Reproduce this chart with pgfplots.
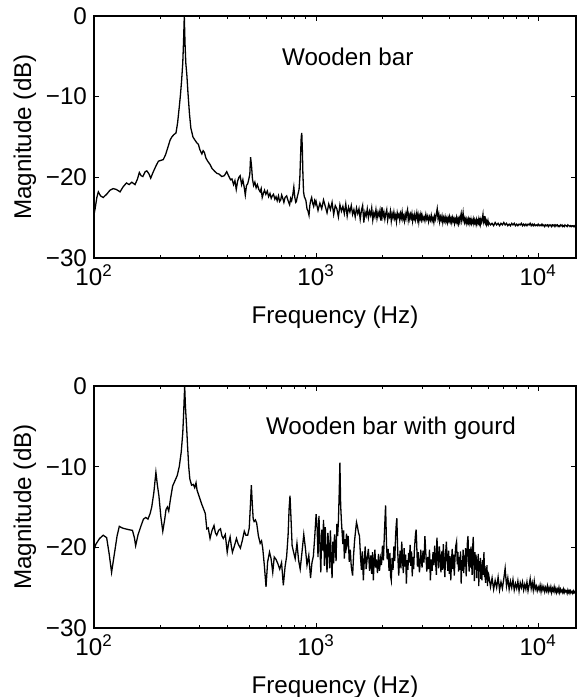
\documentclass[border=0pt]{standalone}
\usepackage{pgfplots}
\pgfplotsset{compat=1.18}
\usepackage{fontspec}
\setmainfont{Liberation Sans}
\newcommand{\fs}{\fontsize{12.1}{14.5}\selectfont}

\pgfplotsset{
  woodaxis/.style={
    scale only axis,
    width=241pt, height=121pt,
    xmin=100, xmax=14800,
    ymin=-30, ymax=0,
    xtick={100,1000,10000},
    xticklabels={10\textsuperscript{2},10\textsuperscript{3},10\textsuperscript{4}},
    minor xtick={200,300,400,500,600,700,800,900,2000,3000,4000,5000,6000,7000,8000,9000},
    ytick={-30,-20,-10,0},
    yticklabels={−30,−20,−10,0},
    tick align=inside,
    major tick length=2.6pt,
    minor tick length=1.4pt,
    axis line style={line width=0.6pt},
    every tick/.style={black, line width=0.5pt},
    tick label style={font=\fs},
    label style={font=\fs},
    xlabel={Frequency (Hz)},
    ylabel={Magnitude (dB)},
    xlabel style={at={(axis description cs:0.5,-0.2727)}, anchor=base},
    ylabel style={at={(axis description cs:-0.1307,0.5)}, anchor=base},
  },
  woodline/.style={black, line width=0.65pt, no marks},
}

\begin{document}
\begin{tikzpicture}
\path[use as bounding box] (0,0) rectangle (289pt,348.5pt);

% top: wooden bar alone
\begin{semilogxaxis}[woodaxis, at={(47pt,219.5pt)}, anchor=south west]
\addplot[woodline] coordinates {
(100,-24.6) (101,-24.0) (103,-22.5) (104.6,-21.8) (107,-22.3) (110,-22.5) (114,-22.1) (118,-21.6) (122,-21.4) (126,-21.5)
(131,-21.8) (135,-21.2) (140,-20.7) (144,-20.9) (148,-20.6) (153,-20.9) (157,-20.2) (160,-19.4) (163,-19.8) (166,-19.9)
(170,-19.3) (173,-19.2) (177,-19.6) (180,-20.1) (185,-19.3) (190,-18.6) (195,-18.0) (200,-17.9) (205,-17.8) (210,-17.2)
(215,-16.3) (220,-15.4) (224,-15.0) (229,-14.7) (234,-14.5) (238,-13.2) (242,-11.3) (245,-9.8) (248,-8.0) (251,-5.8)
(253,-3.2) (255,0) (257,-3.5) (259,-5.8) (262,-7.4) (265,-9.6) (269,-12.1) (273,-13.9) (279,-15.0) (285,-15.4)
(290,-15.7) (295,-15.9) (300,-16.6) (306,-17.1) (310,-16.7) (314,-16.9) (319,-17.6) (325,-18.0) (333,-18.4) (340,-18.9)
(348,-19.2) (357,-19.5) (366,-19.6) (376,-19.9) (386,-19.8) (396,-19.3) (405,-19.9) (412,-20.3) (418,-20.2) (425,-20.9)
(431,-20.4) (437,-21.5) (443,-20.5) (449,-20.0) (455,-19.8) (462,-20.9) (468,-20.3) (475,-21.3) (480,-22.2) (486,-21.0)
(492,-20.8) (498,-20.2) (503,-19.6) (507,-17.5) (512,-18.6) (517,-20.2) (523,-21.0) (530,-20.6) (537,-21.3) (544,-20.9)
(552,-21.5) (560,-21.8) (566,-21.4) (572,-22.5) (579,-22.0) (586,-21.6) (594,-22.1) (603,-21.7) (611,-22.4) (620,-22.0)
(628,-22.6) (635,-22.3) (643,-22.1) (652,-22.7) (660,-22.4) (668,-22.9) (677,-22.3) (685,-23.0) (693,-22.8) (700,-22.2)
(708,-22.6) (716,-23.1) (725,-22.5) (737,-22.3) (746,-22.8) (755,-23.2) (760,-23.4) (768,-22.6) (776,-22.9) (785,-22.2)
(794,-21.2) (802,-22.5) (810,-23.1) (815,-23.0) (823,-22.4) (830,-22.0) (838,-21.5) (845,-20.0) (851,-17.5) (857,-15.0)
(862,-14.5) (867,-16.5) (872,-19.5) (878,-21.8) (885,-22.4) (892,-22.6) (900,-22.9) (910,-23.9) (920,-24.2) (929,-24.7)
(937,-23.5) (945,-22.9) (955,-22.5) (965,-23.2) (975,-23.6) (985,-22.9) (995,-23.3)
(1000,-23.0) (1020,-24.1) (1040,-23.2) (1060,-23.9) (1080,-22.8) (1100,-23.6) (1120,-24.4) (1140,-23.3) (1160,-24.0) (1180,-23.1)
(1200,-24.6) (1220,-23.5) (1240,-23.9) (1260,-24.9) (1280,-23.4) (1300,-24.2) (1320,-23.6) (1340,-24.5) (1360,-23.3) (1380,-24.8)
(1400,-23.7) (1420,-24.3) (1440,-23.5) (1460,-24.6) (1480,-24.0) (1500,-24.9) (1520,-23.8) (1540,-24.5) (1560,-23.9) (1580,-25.2)
(1600,-24.1) (1620,-23.5) (1640,-25.6) (1660,-24.3) (1680,-24.8) (1700,-23.9) (1720,-25.0) (1740,-24.2) (1760,-24.7) (1780,-23.8)
(1800,-25.3) (1820,-24.4) (1840,-24.9) (1860,-24.0) (1880,-25.1) (1900,-24.3) (1920,-24.8) (1940,-24.1) (1960,-25.4) (1980,-23.7)
(2000,-24.9) (2020,-24.3) (2040,-25.2) (2060,-24.5) (2080,-24.0) (2100,-25.3) (2120,-24.6) (2140,-24.9) (2160,-24.2) (2180,-25.4)
(2200,-24.5) (2220,-25.0) (2240,-24.3) (2260,-25.1) (2280,-24.7) (2300,-25.5) (2320,-24.4) (2340,-24.9) (2360,-24.6) (2380,-25.3)
(2400,-24.5) (2420,-25.0) (2440,-24.3) (2460,-25.2) (2480,-24.8) (2500,-25.4) (2520,-24.6) (2540,-25.1) (2560,-24.4) (2580,-24.0)
(2600,-25.3) (2620,-24.7) (2640,-25.2) (2660,-24.6) (2680,-25.0) (2700,-24.5) (2720,-25.4) (2740,-24.8) (2760,-25.1) (2780,-24.6)
(2800,-25.3) (2820,-24.9) (2840,-24.4) (2860,-25.2) (2880,-24.7) (2900,-25.5) (2920,-24.8) (2940,-25.1) (2960,-24.6) (2980,-25.2)
(3000,-24.7) (3030,-25.3) (3060,-24.9) (3090,-25.4) (3120,-24.6) (3150,-25.2) (3180,-24.8) (3210,-25.5) (3240,-24.9) (3270,-25.3)
(3300,-24.7) (3330,-25.4) (3360,-25.0) (3390,-25.6) (3420,-24.8) (3450,-25.2) (3480,-24.5) (3510,-23.9) (3540,-25.1) (3570,-24.6)
(3600,-25.5) (3630,-24.9) (3660,-25.3) (3690,-24.8) (3720,-25.6) (3750,-25.0) (3780,-25.4) (3810,-24.9) (3840,-25.5) (3870,-25.1)
(3900,-25.6) (3930,-25.0) (3960,-25.4) (3990,-24.9) (4020,-25.5) (4050,-25.1) (4080,-25.6) (4110,-25.0) (4140,-25.4) (4170,-25.1)
(4200,-25.7) (4230,-25.2) (4260,-25.5) (4290,-25.0) (4320,-25.6) (4350,-25.2) (4380,-25.7) (4410,-25.1) (4440,-25.5) (4470,-24.9)
(4500,-24.5) (4530,-25.4) (4560,-25.0) (4590,-24.4) (4620,-25.3) (4650,-25.6) (4680,-25.1) (4710,-25.5) (4740,-25.2) (4770,-25.7)
(4800,-25.3) (4830,-25.6) (4860,-25.2) (4890,-25.7) (4920,-25.3) (4950,-25.6) (4980,-25.2) (5010,-25.7) (5040,-25.4) (5070,-25.6)
(5100,-25.2) (5130,-25.7) (5160,-25.3) (5190,-25.6) (5220,-25.4) (5250,-25.8) (5280,-25.3) (5310,-25.7) (5340,-25.4) (5370,-25.6)
(5400,-25.2) (5430,-25.7) (5460,-25.4) (5490,-25.8) (5520,-25.3) (5550,-25.6) (5580,-25.4) (5610,-25.0) (5640,-24.6) (5670,-25.5)
(5700,-25.2) (5730,-25.7) (5760,-24.8) (5790,-25.6) (5820,-25.4) (5850,-25.8) (5880,-25.5) (5910,-25.7) (5940,-25.4) (5970,-25.8)
(6000,-25.6) (6100,-25.9) (6200,-25.7) (6300,-26.0) (6400,-25.6) (6500,-25.9) (6600,-25.7) (6700,-26.0) (6800,-25.7) (6900,-25.9)
(7000,-25.6) (7100,-25.9) (7200,-25.7) (7300,-26.0) (7400,-25.8) (7500,-26.0) (7600,-25.7) (7700,-25.9) (7800,-25.7) (7900,-26.0)
(8000,-25.8) (8100,-26.0) (8200,-25.8) (8300,-25.9) (8400,-25.7) (8500,-26.0) (8600,-25.8) (8700,-26.0) (8800,-25.8) (8900,-26.0)
(9000,-25.8) (9100,-25.9) (9200,-25.7) (9300,-26.0) (9400,-25.8) (9500,-26.0) (9600,-25.8) (9700,-26.0) (9800,-25.9) (9900,-26.0)
(10000,-25.8) (10100,-26.0) (10200,-25.9) (10300,-26.0) (10400,-25.8) (10500,-26.0) (10600,-25.9) (10700,-26.1) (10800,-25.9) (10900,-26.0)
(11000,-25.9) (11100,-26.1) (11200,-25.9) (11300,-26.0) (11400,-25.9) (11500,-26.1) (11600,-25.9) (11700,-26.0) (11800,-25.9) (11900,-26.1)
(12000,-25.9) (12100,-26.0) (12200,-25.9) (12300,-26.1) (12400,-26.0) (12500,-26.1) (12600,-25.9) (12700,-26.0) (12800,-25.9) (12900,-26.1)
(13000,-26.0) (13100,-26.1) (13200,-25.9) (13300,-26.0) (13400,-26.0) (13500,-26.1) (13600,-25.9) (13700,-26.0) (13800,-26.0) (13900,-26.1)
(14000,-26.0) (14100,-26.1) (14200,-26.0) (14300,-26.0) (14400,-26.1) (14500,-26.0) (14600,-26.1) (14700,-26.0) (14800,-26.0) (14900,-26.1)
};
\node[font=\fs, anchor=base] at (axis cs:1389,-6.15) {Wooden bar};
\end{semilogxaxis}

% bottom: wooden bar with gourd resonator
\begin{semilogxaxis}[woodaxis, at={(47pt,34.5pt)}, anchor=south west]
\addplot[woodline] coordinates {
(100,-20.3) (102,-19.6) (106,-18.9) (110,-18.5) (114,-18.8) (117,-20.8) (120,-23.1) (124,-20.5) (127,-18.6) (130,-17.4)
(134,-17.6) (138,-17.7) (143,-17.8) (149,-17.9) (152,-18.8) (154,-19.8) (158,-18.4) (163,-17.3) (167,-16.5) (171,-16.3)
(175,-16.5) (179,-15.8) (182,-15.0) (186,-13.2) (190,-10.7) (193,-12.3) (196,-13.6) (200,-16.2) (204,-18.0) (208,-16.6)
(211,-15.3) (214,-15.0) (217,-15.5) (221,-14.0) (226,-12.4) (231,-11.8) (237,-11.1) (242,-10.0) (247,-8.2) (251,-5.8)
(253,-3.7) (256,0) (258,-2.5) (261,-4.9) (264,-7.6) (267,-10.0) (270,-11.5) (275,-12.3) (280,-12.2) (284,-12.6)
(288,-12.0) (291,-12.9) (295,-13.4) (300,-14.0) (306,-14.7) (312,-15.3) (317,-15.8) (322,-17.7) (327,-17.6) (333,-18.9)
(340,-17.9) (347,-17.3) (352,-18.2) (357,-18.5) (364,-17.9) (371,-17.7) (377,-18.6) (382,-18.9) (390,-18.4) (398,-20.6)
(404,-19.4) (410,-18.7) (415,-19.8) (420,-20.6) (428,-19.9) (438,-18.9) (446,-19.6) (456,-20.1) (465,-19.2) (475,-18.0)
(483,-18.5) (492,-18.5) (500,-17.6) (506,-14.8) (511,-12.3) (516,-14.6) (521,-16.5) (526,-16.8) (533,-16.6) (540,-17.0)
(550,-18.6) (560,-19.5) (568,-19.2) (575,-20.1) (585,-22.3) (595,-24.9) (605,-21.8) (617,-20.6) (627,-21.4) (638,-23.1)
(648,-21.2) (660,-21.5) (672,-22.0) (686,-22.7) (699,-21.9) (712,-24.7) (725,-22.4) (737,-21.1) (748,-18.5) (756,-15.2)
(763,-13.6) (770,-16.0) (780,-19.8) (792,-20.6) (805,-21.4) (820,-19.5) (834,-21.6) (848,-22.7) (864,-20.6) (880,-18.4)
(895,-20.1) (910,-22.2) (927,-21.0) (944,-23.8) (958,-21.9) (972,-21.1) (986,-18.7) (1000,-15.9)
(1010,-17.3) (1020,-21.2) (1030,-16.1) (1040,-19.5) (1050,-23.1) (1060,-17.8) (1070,-20.4) (1080,-16.6) (1090,-22.3) (1100,-17.5)
(1110,-20.9) (1120,-23.1) (1130,-18.2) (1140,-19.8) (1150,-22.6) (1160,-17.9) (1170,-21.4) (1180,-23.8) (1190,-19.3) (1200,-22.0)
(1210,-18.4) (1220,-19.8) (1230,-21.7) (1240,-17.1) (1250,-18.6) (1260,-16.8) (1270,-13.5) (1280,-9.5) (1290,-14.8) (1300,-16.7)
(1310,-18.2) (1320,-19.6) (1330,-17.9) (1340,-21.4) (1350,-19.0) (1360,-20.7) (1370,-18.3) (1380,-19.5) (1395,-18.6) (1410,-21.8)
(1425,-20.3) (1440,-22.4) (1460,-23.5) (1475,-21.0) (1490,-19.2) (1505,-18.0) (1520,-16.9) (1535,-17.4) (1550,-18.1) (1568,-18.6)
(1585,-21.2) (1600,-22.8) (1616,-20.5) (1632,-24.1) (1648,-21.6) (1664,-19.9) (1680,-22.7) (1700,-21.3) (1720,-20.2) (1740,-22.9)
(1760,-21.0) (1780,-23.3) (1795,-20.6) (1810,-24.1) (1825,-21.8) (1840,-20.3) (1855,-22.5) (1870,-21.5) (1890,-23.2) (1910,-20.8)
(1930,-22.9) (1950,-21.4) (1970,-22.2) (1990,-19.8) (2010,-21.6) (2030,-18.3) (2055,-14.8) (2075,-19.6) (2090,-21.5) (2110,-20.2)
(2130,-22.9) (2150,-20.7) (2165,-23.6) (2180,-24.1) (2200,-21.3) (2220,-22.8) (2240,-19.9) (2260,-21.7) (2280,-18.6) (2295,-17.2)
(2310,-16.4) (2325,-19.5) (2340,-21.8) (2355,-23.5) (2370,-22.0) (2390,-20.4) (2410,-22.6) (2430,-19.3) (2450,-21.5) (2470,-23.2)
(2490,-20.1) (2510,-22.4) (2530,-20.9) (2550,-24.5) (2570,-21.6) (2590,-22.8) (2610,-20.7) (2630,-21.9) (2650,-19.7) (2670,-22.3)
(2690,-20.5) (2710,-23.6) (2730,-21.2) (2750,-22.7) (2770,-20.4) (2790,-19.1) (2805,-18.3) (2822,-17.8) (2840,-19.9) (2860,-22.4)
(2880,-20.6) (2900,-21.8) (2920,-23.1) (2940,-22.0) (2960,-20.3) (2980,-21.7)
(3000,-22.5) (3030,-20.4) (3060,-21.9) (3090,-18.6) (3120,-20.8) (3150,-23.0) (3180,-21.2) (3210,-22.7) (3240,-20.3) (3270,-24.1)
(3300,-21.5) (3330,-22.9) (3360,-20.6) (3390,-22.2) (3420,-19.8) (3450,-21.7) (3480,-23.4) (3500,-18.8) (3530,-20.9) (3560,-22.6)
(3590,-19.9) (3620,-21.4) (3650,-23.1) (3680,-20.5) (3710,-22.8) (3740,-19.6) (3770,-21.9) (3800,-23.7) (3830,-20.8) (3860,-19.3)
(3890,-21.6) (3920,-22.9) (3950,-20.4) (3980,-23.3) (4010,-21.1) (4040,-24.1) (4070,-21.8) (4100,-20.2) (4130,-22.7) (4160,-20.9)
(4190,-23.5) (4220,-21.4) (4250,-19.9) (4290,-19.3) (4320,-22.1) (4350,-20.6) (4380,-23.0) (4410,-21.2) (4440,-22.8) (4470,-20.5)
(4500,-24.5) (4530,-21.6) (4560,-22.9) (4590,-20.3) (4620,-23.2) (4650,-21.0) (4680,-22.4) (4710,-20.1) (4740,-23.6) (4770,-21.3)
(4800,-19.4) (4830,-18.6) (4860,-21.7) (4890,-23.0) (4920,-20.2) (4950,-22.5) (4980,-19.9) (5010,-21.4) (5040,-23.4) (5070,-20.0)
(5100,-18.7) (5130,-21.9) (5160,-24.2) (5190,-20.6) (5220,-22.7) (5250,-20.9) (5280,-23.8) (5310,-21.5) (5340,-22.9) (5370,-20.8)
(5400,-24.8) (5430,-21.7) (5460,-23.0) (5490,-21.3) (5520,-23.9) (5550,-22.1) (5580,-24.1) (5610,-21.6) (5640,-23.4) (5670,-22.0)
(5700,-20.6) (5730,-23.7) (5760,-22.3) (5790,-24.4) (5820,-22.6) (5850,-23.8) (5880,-22.2) (5910,-24.8) (5940,-23.1) (5970,-24.2)
(6000,-23.6) (6100,-24.9) (6200,-23.8) (6300,-25.2) (6400,-24.1) (6500,-25.0) (6600,-23.7) (6700,-25.3) (6800,-24.3) (6900,-25.1)
(7000,-23.9) (7100,-22.6) (7200,-24.8) (7300,-23.8) (7400,-25.2) (7500,-24.2) (7600,-25.0) (7700,-24.0) (7800,-25.3) (7900,-24.5)
(8000,-25.1) (8100,-24.2) (8200,-25.4) (8300,-24.4) (8400,-25.0) (8500,-24.3) (8600,-25.3) (8700,-24.6) (8800,-25.2) (8900,-24.3)
(9000,-25.4) (9100,-24.7) (9200,-23.9) (9300,-25.1) (9400,-24.4) (9500,-25.3) (9600,-24.2) (9700,-25.2) (9800,-24.8) (9900,-25.4)
(10000,-24.9) (10100,-25.3) (10200,-24.7) (10300,-25.5) (10400,-24.8) (10500,-25.3) (10600,-24.9) (10700,-25.5) (10800,-25.0) (10900,-25.4)
(11000,-24.8) (11100,-25.5) (11200,-25.0) (11300,-25.4) (11400,-24.9) (11500,-25.6) (11600,-25.1) (11700,-25.4) (11800,-24.9) (11900,-25.5)
(12000,-25.1) (12100,-25.6) (12200,-25.2) (12300,-25.5) (12400,-25.0) (12500,-25.6) (12600,-25.2) (12700,-25.5) (12800,-25.3) (12900,-25.6)
(13000,-25.2) (13100,-25.6) (13200,-25.3) (13300,-25.5) (13400,-25.4) (13500,-25.7) (13600,-25.3) (13700,-25.6) (13800,-25.4) (13900,-25.7)
(14000,-25.4) (14100,-25.6) (14200,-25.5) (14300,-25.7) (14400,-25.4) (14500,-25.6) (14600,-25.5) (14700,-25.7) (14800,-25.5) (14900,-25.6)
};
\node[font=\fs, anchor=base] at (axis cs:2173,-6.07) {Wooden bar with gourd};
\end{semilogxaxis}
\end{tikzpicture}
\end{document}
